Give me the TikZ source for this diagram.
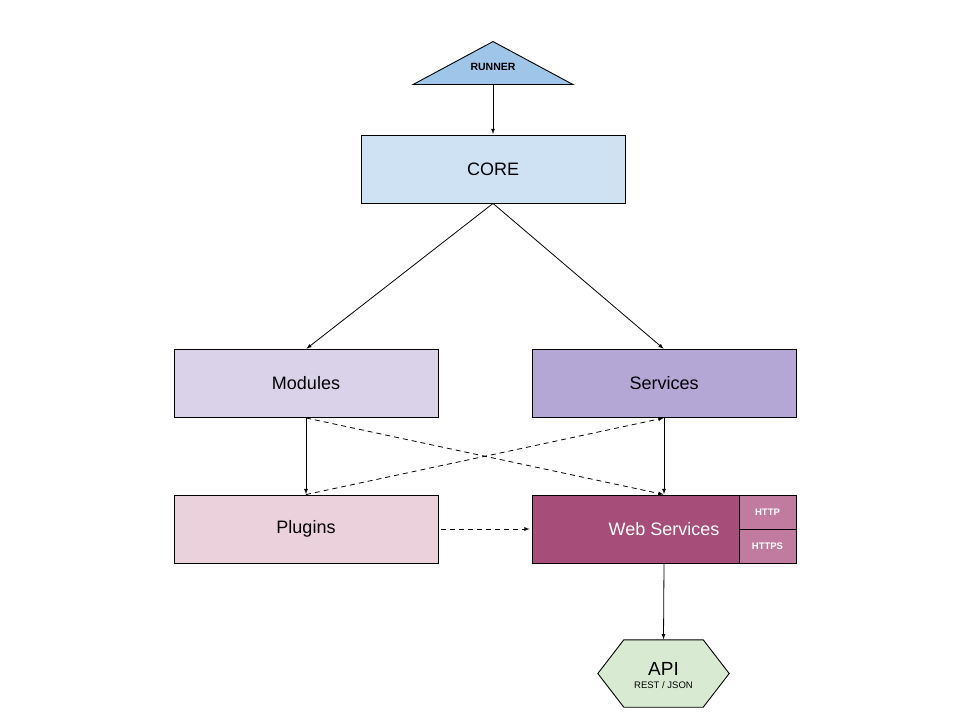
\documentclass[tikz,border=0pt]{standalone}
\usepackage{fontspec}
\setmainfont{Liberation Sans}
\usetikzlibrary{shapes.geometric, arrows, positioning, calc}
\definecolor{runnerblue}{HTML}{9FC5E8}
\definecolor{coreblue}{HTML}{CFE2F3}
\definecolor{modlilac}{HTML}{D9D2E9}
\definecolor{svcpurple}{HTML}{B4A7D6}
\definecolor{plugpink}{HTML}{EAD1DC}
\definecolor{webplum}{HTML}{A64D79}
\definecolor{protopink}{HTML}{C27BA0}
\definecolor{apigreen}{HTML}{D9EAD3}
\tikzstyle{block} = [rectangle, minimum width=264pt, minimum height=68pt, text centered, draw=black, line width=0.9pt, inner sep=0pt, font=\fontsize{18}{20}\selectfont]
\tikzstyle{proto} = [rectangle, minimum width=57pt, minimum height=34pt, draw=black, line width=0.9pt, fill=protopink, text=white, inner sep=0pt, font=\fontsize{9.5}{11}\selectfont\bfseries]
\tikzstyle{arrow} = [->,>=latex, line width=0.8pt, shorten >=0.5pt]
\tikzstyle{dasharrow} = [arrow, dash pattern=on 5pt off 4pt]

\begin{document}
\begin{tikzpicture}[x=1pt, y=-1pt]
\useasboundingbox (0,0) rectangle (960,720);

% Entry point
\node (runner) [isosceles triangle, shape border rotate=90, isosceles triangle stretches, minimum width=160pt, minimum height=43pt, inner sep=0pt, draw=black, line width=0.9pt, fill=runnerblue, anchor=south] at (493,85) {};
\node (runnerlbl) [font=\fontsize{10.5}{12}\selectfont\bfseries] at (493,67) {RUNNER};

% Core
\node (core) [block, fill=coreblue] at (493,169) {CORE};

% Modules / Services
\node (modules) [block, fill=modlilac] at (306,383.5) {Modules};
\node (services) [block, fill=svcpurple] at (664,383.5) {Services};

% Plugins / Web Services
\node (plugins) [block, fill=plugpink] at (306,529) {Plugins};
\node (websvc) [block, fill=webplum, text=white] at (664,529) {Web Services};
\node (http) [proto, anchor=north east] at (websvc.north east) {HTTP};
\node (https) [proto, anchor=south east] at (websvc.south east) {HTTPS};

% API
\node (api) [rectangle, minimum width=131pt, minimum height=67pt, inner sep=0pt, align=center] at (663.5,673.5) {};
\filldraw [fill=apigreen, draw=black, line width=0.9pt] (api.west) -- ($(api.north west)+(26,0)$) -- ($(api.north east)+(-26,0)$) -- (api.east) -- ($(api.south east)+(-26,0)$) -- ($(api.south west)+(26,0)$) -- cycle;
\node (apilbl) [align=center, inner sep=0pt] at ($(api.center)+(0,2)$) {{\fontsize{19}{21}\selectfont API}\\[1pt]{\fontsize{9.5}{11}\selectfont REST / JSON}};

% Arrows
\draw [arrow] (runner.south) -- (core.north);
\draw [arrow] (core.south) -- (modules.north);
\draw [arrow] (core.south) -- (services.north);
\draw [arrow] (modules.south) -- (plugins.north);
\draw [arrow] (services.south) -- (websvc.north);
\draw [arrow] (websvc.south) -- (api.north);
\draw [dasharrow] (modules.south) -- (websvc.north);
\draw [dasharrow] (plugins.north) -- (services.south);
\draw [dasharrow, shorten <=3pt, shorten >=2pt] (plugins.east) -- (websvc.west);

\end{tikzpicture}
\end{document}
